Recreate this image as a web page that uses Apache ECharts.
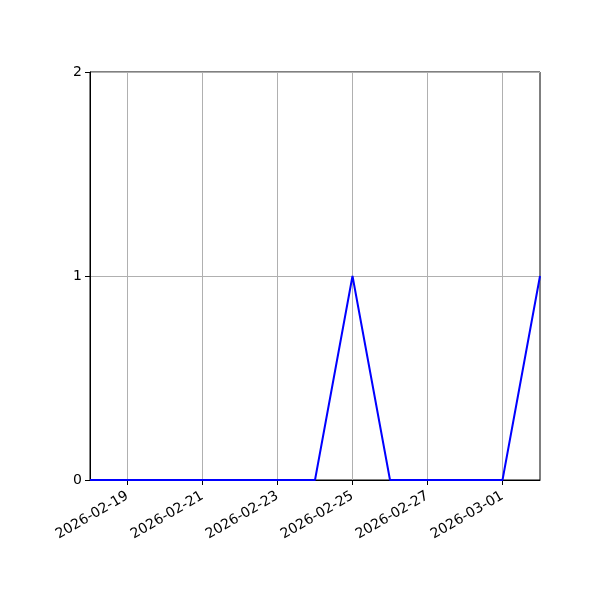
<!DOCTYPE html>
<html><head><meta charset="utf-8">
<script src="https://cdn.jsdelivr.net/npm/echarts@6/dist/echarts.min.js"></script>
<style>html,body{margin:0;padding:0;background:#fff}#c{width:600px;height:600px}</style>
</head><body><div id="c"></div>
<script>
const dates = ['2026-02-18','2026-02-19','2026-02-20','2026-02-21','2026-02-22','2026-02-23','2026-02-24','2026-02-25','2026-02-26','2026-02-27','2026-02-28','2026-03-01','2026-03-02'];
const values = [0,0,0,0,0,0,0,1,0,0,0,0,1];
const yTicks = [0,1,2];

const chart = echarts.init(document.getElementById('c'), null, {renderer:'canvas'});
const showIdx = (i) => i % 2 === 1;
chart.setOption({
  animation:false,
  grid:{left:90,right:60,top:72,bottom:120,show:true,borderColor:'#000',borderWidth:1,backgroundColor:'transparent'},
  xAxis:{
    type:'category', data:dates, boundaryGap:false,
    axisLine:{show:true,lineStyle:{color:'#000',width:1}},
    axisTick:{show:true,interval:showIdx,length:5,lineStyle:{color:'#000'}},
    axisLabel:{interval:showIdx,rotate:30,color:'#000',fontSize:14,fontFamily:'DejaVu Sans',margin:15},
    splitLine:{show:true,interval:showIdx,lineStyle:{color:'#b0b0b0',width:1}}
  },
  yAxis:{
    type:'value', min:yTicks[0], max:yTicks[yTicks.length-1], interval:1,
    axisLine:{show:true,lineStyle:{color:'#000',width:1}},
    axisTick:{show:true,length:5,lineStyle:{color:'#000'}},
    axisLabel:{color:'#000',fontSize:14,fontFamily:'DejaVu Sans',margin:8},
    splitLine:{show:true,lineStyle:{color:'#b0b0b0',width:1}}
  },
  series:[{type:'line',data:values,showSymbol:false,symbol:'none',lineStyle:{color:'#0000ff',width:2},itemStyle:{color:'#0000ff'}}]
});
</script></body></html>
